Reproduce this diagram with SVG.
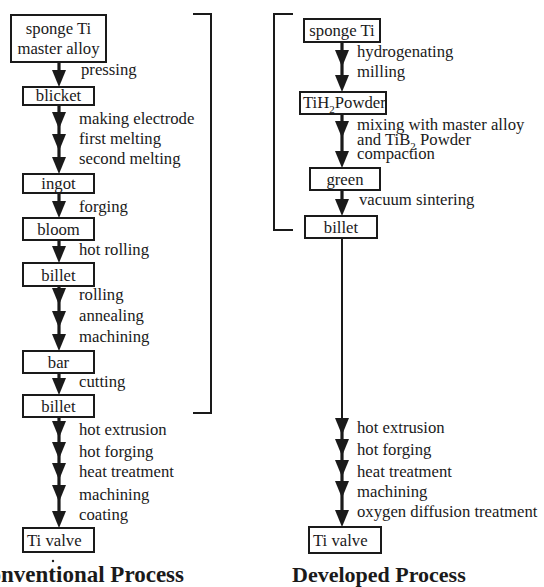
<svg xmlns="http://www.w3.org/2000/svg" xmlns:xlink="http://www.w3.org/1999/xlink" width="544" height="587" viewBox="0 0 544 587">
<style>
  .box { fill: #fff; stroke: #1a1a1a; stroke-width: 2; }
  .t { font-family: "Liberation Serif", "Times New Roman", serif; font-size: 16.7px; fill: #1a1a1a; }
  .c { text-anchor: middle; }
  .cap { font-family: "Liberation Serif", "Times New Roman", serif; font-size: 22px; font-weight: bold; fill: #1a1a1a; }
  .shaft { stroke: #1a1a1a; stroke-width: 3.2; fill: none; }
  .thin { stroke: #1a1a1a; stroke-width: 2; fill: none; }
  .br { stroke: #1a1a1a; stroke-width: 2; fill: none; }
  .sub { font-size: 11px; }
</style>
<defs>
  <path id="ah" d="M-7,-17 L7,-17 L0,0 Z" fill="#1a1a1a"/>
</defs>

<g id="connectors">
  <!-- conventional -->
  <line class="shaft" x1="59" y1="62" x2="59" y2="80"/>
  <use xlink:href="#ah" x="59" y="87"/>
  <line class="shaft" x1="59" y1="105" x2="59" y2="167"/>
  <use xlink:href="#ah" x="59" y="129"/>
  <use xlink:href="#ah" x="59" y="151"/>
  <use xlink:href="#ah" x="59" y="174"/>
  <line class="shaft" x1="59" y1="193" x2="59" y2="211"/>
  <use xlink:href="#ah" x="59" y="218"/>
  <line class="shaft" x1="59" y1="240" x2="59" y2="256"/>
  <use xlink:href="#ah" x="59" y="263"/>
  <line class="shaft" x1="59" y1="286" x2="59" y2="344"/>
  <use xlink:href="#ah" x="59" y="305"/>
  <use xlink:href="#ah" x="59" y="328"/>
  <use xlink:href="#ah" x="59" y="351"/>
  <line class="shaft" x1="59" y1="373" x2="59" y2="388"/>
  <use xlink:href="#ah" x="59" y="395"/>
  <line class="shaft" x1="59" y1="417" x2="59" y2="521"/>
  <use xlink:href="#ah" x="59" y="438"/>
  <use xlink:href="#ah" x="59" y="459"/>
  <use xlink:href="#ah" x="59" y="480"/>
  <use xlink:href="#ah" x="59" y="502"/>
  <use xlink:href="#ah" x="59" y="528"/>
  <!-- developed -->
  <line class="shaft" x1="342" y1="42" x2="342" y2="85"/>
  <use xlink:href="#ah" x="342" y="67"/>
  <use xlink:href="#ah" x="342" y="92"/>
  <line class="shaft" x1="342" y1="114" x2="342" y2="161"/>
  <use xlink:href="#ah" x="342" y="138"/>
  <use xlink:href="#ah" x="342" y="168"/>
  <line class="shaft" x1="342" y1="190" x2="342" y2="209"/>
  <use xlink:href="#ah" x="342" y="216"/>
  <line class="thin" x1="342" y1="238" x2="342" y2="425"/>
  <line class="shaft" x1="342" y1="430" x2="342" y2="520"/>
  <use xlink:href="#ah" x="342" y="435"/>
  <use xlink:href="#ah" x="342" y="456"/>
  <use xlink:href="#ah" x="342" y="477"/>
  <use xlink:href="#ah" x="342" y="498"/>
  <use xlink:href="#ah" x="342" y="527"/>
</g>

<g id="brackets">
  <polyline class="br" points="193,14 211,14 211,413 193,413"/>
  <polyline class="br" points="293,14 274,14 274,230 293,230"/>
</g>

<g id="step-labels">
  <text class="t" x="81" y="75">pressing</text>
  <text class="t" x="79" y="124">making electrode</text>
  <text class="t" x="79" y="144">first melting</text>
  <text class="t" x="79" y="164">second melting</text>
  <text class="t" x="79" y="212">forging</text>
  <text class="t" x="79" y="255">hot rolling</text>
  <text class="t" x="79" y="300">rolling</text>
  <text class="t" x="79" y="321">annealing</text>
  <text class="t" x="79" y="342">machining</text>
  <text class="t" x="79" y="387">cutting</text>
  <text class="t" x="79" y="435">hot extrusion</text>
  <text class="t" x="79" y="457">hot forging</text>
  <text class="t" x="79" y="477">heat treatment</text>
  <text class="t" x="79" y="500">machining</text>
  <text class="t" x="79" y="520">coating</text>

  <text class="t" x="357" y="57">hydrogenating</text>
  <text class="t" x="357" y="77">milling</text>
  <text class="t" x="357" y="130">mixing with master alloy</text>
  <text class="t" x="357" y="145">and TiB<tspan class="sub" dy="5">2</tspan><tspan dy="-5"> Powder</tspan></text>
  <text class="t" x="357" y="159">compaction</text>
  <text class="t" x="359" y="205">vacuum sintering</text>
  <text class="t" x="357" y="433">hot extrusion</text>
  <text class="t" x="357" y="455">hot forging</text>
  <text class="t" x="357" y="477">heat treatment</text>
  <text class="t" x="357" y="497">machining</text>
  <text class="t" x="357" y="517">oxygen diffusion treatment</text>
</g>

<g id="n-sponge-master">
  <rect class="box" x="11" y="15" width="95" height="47"/>
  <text class="t c" x="58.5" y="34">sponge Ti</text>
  <text class="t c" x="58.5" y="54">master alloy</text>
</g>
<g id="n-blicket">
  <rect class="box" x="23" y="87" width="71" height="18"/>
  <text class="t c" x="58.5" y="101">blicket</text>
</g>
<g id="n-ingot">
  <rect class="box" x="23" y="174" width="71" height="19"/>
  <text class="t c" x="58.5" y="189">ingot</text>
</g>
<g id="n-bloom">
  <rect class="box" x="23" y="218" width="71" height="22"/>
  <text class="t c" x="58.5" y="235">bloom</text>
</g>
<g id="n-billet1">
  <rect class="box" x="23" y="263" width="71" height="23"/>
  <text class="t c" x="58.5" y="281">billet</text>
</g>
<g id="n-bar">
  <rect class="box" x="23" y="351" width="71" height="22"/>
  <text class="t c" x="58.5" y="368">bar</text>
</g>
<g id="n-billet2">
  <rect class="box" x="23" y="395" width="71" height="22"/>
  <text class="t c" x="58.5" y="412">billet</text>
</g>
<g id="n-tivalve1">
  <rect class="box" x="23" y="528" width="71" height="24"/>
  <text class="t" x="27" y="546">Ti valve</text>
</g>

<g id="n-sponge">
  <rect class="box" x="304" y="19" width="76" height="23"/>
  <text class="t c" x="342" y="36">sponge Ti</text>
</g>
<g id="n-tih2">
  <rect class="box" x="300" y="92" width="86" height="22"/>
  <text class="t" x="303" y="108">TiH<tspan class="sub" dy="5">2</tspan><tspan dy="-5">Powder</tspan></text>
</g>
<g id="n-green">
  <rect class="box" x="310" y="168" width="70" height="22"/>
  <text class="t c" x="345" y="185">green</text>
</g>
<g id="n-billet3">
  <rect class="box" x="305" y="216" width="72" height="22"/>
  <text class="t c" x="341" y="233">billet</text>
</g>
<g id="n-tivalve2">
  <rect class="box" x="309" y="527" width="72" height="26"/>
  <text class="t" x="313" y="546">Ti valve</text>
</g>

<g id="captions">
  <circle cx="53" cy="561" r="1.2" fill="#1a1a1a"/>
  <text class="cap" x="184" y="582" text-anchor="end" style="font-size:23px">Conventional Process</text>
  <text class="cap" x="292" y="582">Developed Process</text>
</g>
</svg>
